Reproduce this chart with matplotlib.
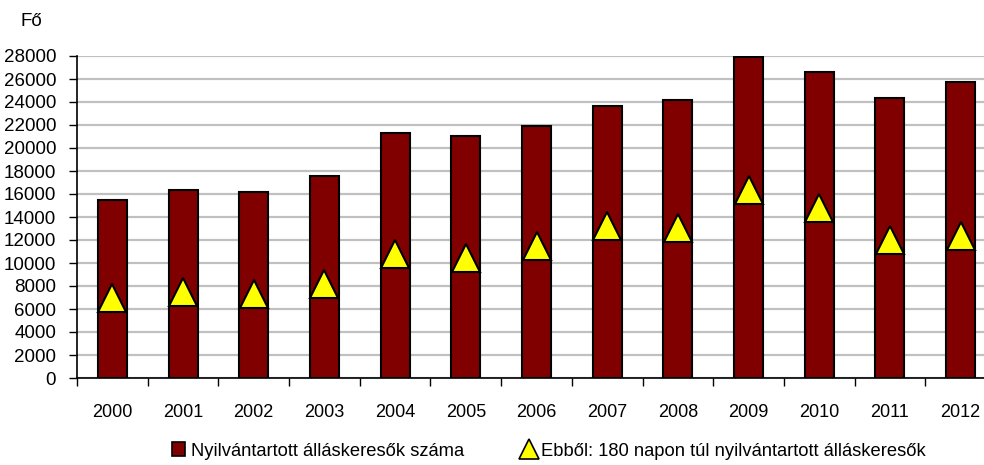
import matplotlib
matplotlib.use("Agg")
import matplotlib.pyplot as plt
from matplotlib.lines import Line2D
from matplotlib.patches import Patch

years = ["2000", "2001", "2002", "2003", "2004", "2005", "2006",
         "2007", "2008", "2009", "2010", "2011", "2012"]
registered = [15500, 16350, 16200, 17600, 21280, 21070, 21940,
              23680, 24200, 27890, 26640, 24370, 25770]
over_180_days = [7000, 7480, 7330, 8200, 10800, 10450, 11500,
                 13230, 13070, 16380, 14780, 12030, 12380]
y_ticks = list(range(0, 28001, 2000))

label_bars = "Nyilvántartott álláskeresők száma"
label_tri = "Ebből: 180 napon túl nyilvántartott álláskeresők"

plt.rcParams["font.family"] = ["Liberation Sans", "DejaVu Sans"]

fig = plt.figure(figsize=(9.84, 4.65), dpi=100)
ax = fig.add_axes([77 / 984, 87 / 465, 919 / 984, 322 / 465])

x = list(range(len(years)))
ax.bar(x, registered, width=0.41, color="#800000", edgecolor="black",
       linewidth=1.5, zorder=3)
ax.plot(x, over_180_days, linestyle="none", marker="^", markersize=20,
        markerfacecolor="#ffff00", markeredgecolor="black",
        markeredgewidth=1.5, zorder=4)

ax.set_xlim(-0.5, len(years) - 0.5)
ax.set_ylim(0, 28000)
ax.set_yticks(y_ticks)
ax.set_yticklabels([str(v) for v in y_ticks], fontsize=13.5)
ax.yaxis.grid(True, color="#c0c0c0", linewidth=1.6, zorder=0)
ax.set_axisbelow(True)

# category ticks between bars, labels centered under bars
ax.set_xticks([i - 0.5 for i in range(len(years) + 1)])
ax.set_xticklabels([])
ax.set_xticks(x, minor=True)
ax.set_xticklabels(years, minor=True, fontsize=13)
ax.tick_params(axis="x", which="major", length=6, width=1, color="black")
ax.tick_params(axis="x", which="minor", length=0, pad=19)
ax.tick_params(axis="y", length=6, width=1, pad=9)

for side in ["top", "right"]:
    ax.spines[side].set_visible(False)
ax.spines["left"].set_linewidth(1.2)
ax.spines["bottom"].set_linewidth(1.2)

fig.text(21 / 984, 1 - 22 / 465, "Fő", fontsize=13.5, va="center", ha="left")

handles = [
    Patch(facecolor="#800000", edgecolor="black", linewidth=1.2),
    Line2D([], [], linestyle="none", marker="^", markersize=14,
           markerfacecolor="#ffff00", markeredgecolor="black",
           markeredgewidth=1.2),
]
fig.legend(handles, [label_bars, label_tri], loc="center", ncol=2,
           frameon=False, fontsize=13.2, bbox_to_anchor=(549 / 984, 14 / 465),
           handlelength=0.7, handleheight=0.8, handletextpad=0.3,
           columnspacing=3.2)

fig.savefig("out.png", dpi=100)
